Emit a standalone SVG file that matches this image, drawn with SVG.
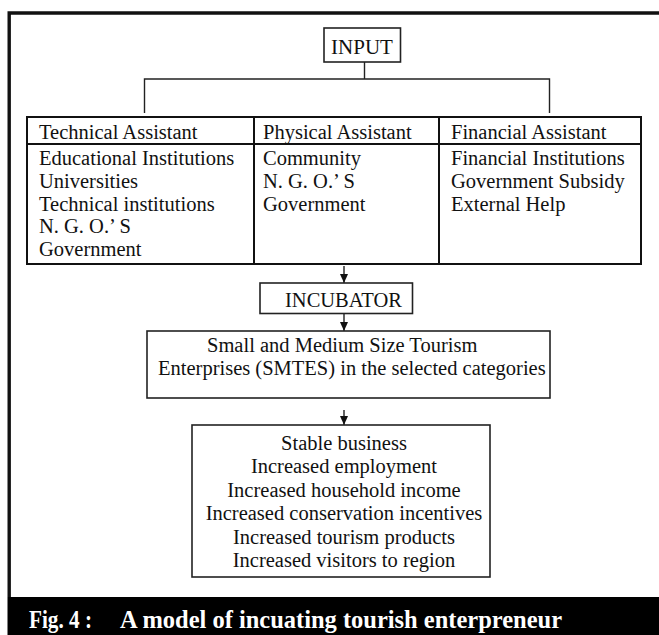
<svg xmlns="http://www.w3.org/2000/svg" width="659" height="635" viewBox="0 0 659 635">
<style>
  text { font-family: "Liberation Serif", "Times New Roman", serif; fill: #111; }
  .t { font-size: 20.5px; }
  .c { text-anchor: middle; }
  .box { fill: #fff; stroke: #222; stroke-width: 1.6; }
  .tbl { fill: none; stroke: #111; stroke-width: 2; }
  .conn { fill: none; stroke: #222; stroke-width: 1.4; }
  .cap { font-weight: bold; font-size: 26px; fill: #fff; }
</style>
<defs>
  <marker id="ah" markerWidth="10" markerHeight="8" refX="9" refY="4" orient="auto" markerUnits="userSpaceOnUse">
    <path d="M0,0 L9,4 L0,8 z" fill="#111"/>
  </marker>
</defs>
<rect width="659" height="635" fill="#fff"/>
<g id="frame">
  <path d="M9.2,597 V13 H659" fill="none" stroke="#111" stroke-width="3.4"/>
  <rect x="7.5" y="597" width="651.5" height="38" fill="#000"/>
</g>
<g id="caption">
  <text class="cap" x="29" y="628" textLength="63" lengthAdjust="spacingAndGlyphs">Fig. 4 :</text>
  <text class="cap" x="120" y="628" textLength="442" lengthAdjust="spacingAndGlyphs">A model of incuating tourish enterpreneur</text>
</g>
<g id="connectors">
  <path class="conn" d="M364.5,62 V79 M144.5,113 V79 H549.5 V113"/>
  <line class="conn" x1="344" y1="266" x2="344" y2="283" marker-end="url(#ah)"/>
  <line class="conn" x1="344" y1="314" x2="344" y2="331" marker-end="url(#ah)"/>
  <line class="conn" x1="344" y1="410" x2="344" y2="425" marker-end="url(#ah)"/>
</g>
<g id="node-input">
  <rect class="box" x="324" y="28" width="76.5" height="34"/>
  <text x="362" y="54" font-size="21" class="c">INPUT</text>
</g>
<g id="node-technical">
  <rect class="tbl" x="27" y="117" width="227" height="147"/>
  <line class="tbl" x1="27" y1="144" x2="254" y2="144"/>
  <text class="t" x="39" y="138.5">Technical Assistant</text>
  <text class="t" x="39" y="165">Educational Institutions</text>
  <text class="t" x="39" y="187.8">Universities</text>
  <text class="t" x="39" y="210.6">Technical institutions</text>
  <text class="t" x="39" y="233.4">N. G. O.’ S</text>
  <text class="t" x="39" y="256.2">Government</text>
</g>
<g id="node-physical">
  <rect class="tbl" x="254" y="117" width="185" height="147"/>
  <line class="tbl" x1="254" y1="144" x2="439" y2="144"/>
  <text class="t" x="263" y="138.5">Physical Assistant</text>
  <text class="t" x="263" y="165">Community</text>
  <text class="t" x="263" y="187.8">N. G. O.’ S</text>
  <text class="t" x="263" y="210.6">Government</text>
</g>
<g id="node-financial">
  <rect class="tbl" x="439" y="117" width="202" height="147"/>
  <line class="tbl" x1="439" y1="144" x2="641" y2="144"/>
  <text class="t" x="451" y="138.5">Financial Assistant</text>
  <text class="t" x="451" y="165">Financial Institutions</text>
  <text class="t" x="451" y="187.8">Government Subsidy</text>
  <text class="t" x="451" y="210.6">External Help</text>
</g>
<g id="node-incubator">
  <rect class="box" x="260" y="283" width="152.5" height="30.5"/>
  <text class="t" x="285" y="306.5">INCUBATOR</text>
</g>
<g id="node-smtes">
  <rect class="box" x="147" y="331" width="403" height="67"/>
  <text class="t" x="207" y="352">Small and Medium Size Tourism</text>
  <text class="t" x="158" y="375">Enterprises (SMTES) in the selected categories</text>
</g>
<g id="node-outcomes">
  <rect class="box" x="192" y="425" width="298" height="152"/>
  <text class="t c" x="344" y="449.5">Stable business</text>
  <text class="t c" x="344" y="473">Increased employment</text>
  <text class="t c" x="344" y="496.5">Increased household income</text>
  <text class="t c" x="344" y="520">Increased conservation incentives</text>
  <text class="t c" x="344" y="543.5">Increased tourism products</text>
  <text class="t c" x="344" y="567">Increased visitors to region</text>
</g>
</svg>
